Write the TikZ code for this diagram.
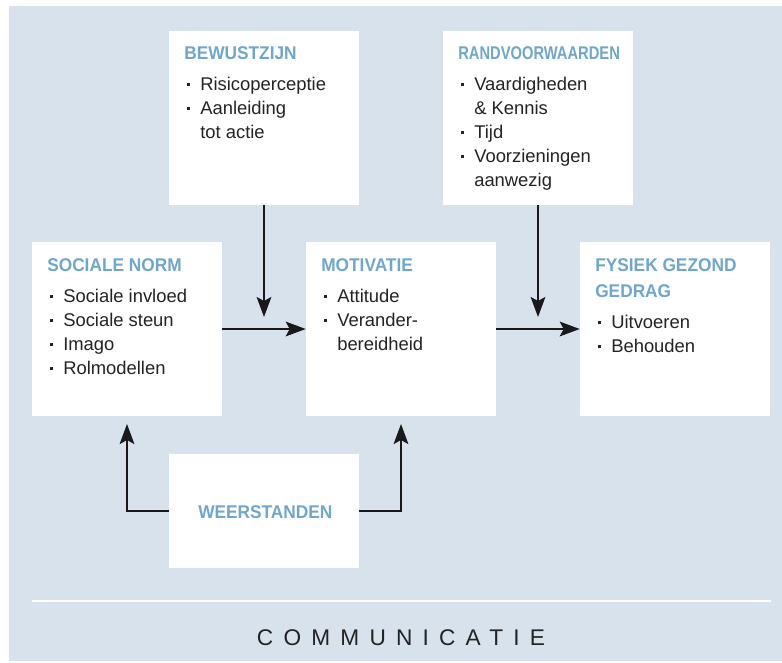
\documentclass[tikz,border=0pt]{standalone}
\usepackage{fontspec}
\setmainfont{Liberation Sans}
\newfontfamily\ttlfont[FakeStretch=0.94]{Liberation Sans}
\newfontfamily\ttlnarrow[FakeStretch=0.80]{Liberation Sans}
\newfontfamily\commfont[LetterSpace=45]{Liberation Sans}
\usetikzlibrary{arrows.meta}
\definecolor{bgblue}{RGB}{216,226,237}
\definecolor{ttlblue}{RGB}{111,166,201}
\definecolor{txtgray}{RGB}{35,35,38}
\newcommand{\ttl}[1]{{\color{ttlblue}\ttlfont\bfseries #1}}
\newcommand{\ttln}[1]{{\color{ttlblue}\ttlnarrow\bfseries #1}}
\newcommand{\itm}{\makebox[12pt][l]{\hspace{2pt}\rule[3pt]{2.3pt}{2.3pt}}}
\newcommand{\cnt}{\hspace*{12pt}}

\begin{document}
\begin{tikzpicture}[x=0.75pt, y=-0.75pt,
  box/.style={fill=white, draw=none, minimum width=142.5pt, minimum height=130.5pt, inner sep=0pt},
  lowbox/.style={box, minimum height=85.5pt},
  boxtext/.style={anchor=north west, align=left, inner sep=0pt, text=txtgray, font=\fontsize{13.8}{18}\selectfont},
  edge/.style={line width=1.6pt, draw=black!90, arrows={-Stealth[length=15pt, width=11pt, inset=3pt]}}
]
\useasboundingbox (0,0) rectangle (782,662);
\fill[bgblue] (9,6) rectangle (782,661);

\node[box] (bew) at (264,118) {};
\node[box] (rand) at (538,118) {};
\node[box] (soc) at (127,329) {};
\node[box] (mot) at (401,329) {};
\node[box] (fys) at (675,329) {};
\node[lowbox] (weer) at (264,511) {};

\node[boxtext] (bewtxt) at (184,46) {\ttl{BEWUSTZIJN}\\[5.25pt]
  \itm Risicoperceptie\\ \itm Aanleiding\\ \cnt tot actie};
\node[boxtext] (randtxt) at (458,46) {\ttln{RANDVOORWAARDEN}\\[5.25pt]
  \itm Vaardigheden\\ \cnt\& Kennis\\ \itm Tijd\\ \itm Voorzieningen\\ \cnt aanwezig};
\node[boxtext] (soctxt) at (47,258) {\ttl{SOCIALE NORM}\\[5.25pt]
  \itm Sociale invloed\\ \itm Sociale steun\\ \itm Imago\\ \itm Rolmodellen};
\node[boxtext] (mottxt) at (321,258) {\ttl{MOTIVATIE}\\[5.25pt]
  \itm Attitude\\ \itm Verander-\\ \cnt bereidheid};
\node[boxtext] (fystxt) at (595,258) {\ttl{FYSIEK GEZOND}\\[1.5pt] \ttl{GEDRAG}\\[5.25pt]
  \itm Uitvoeren\\ \itm Behouden};
\node[boxtext, anchor=base west] (weertxt) at (198,518) {\ttl{WEERSTANDEN}};

\coordinate (bewend) at (264,317);
\coordinate (randend) at (538,317);
\coordinate (socin) at (127,424);
\coordinate (motin) at (401,424);

\draw[edge] (bew) -- (bewend);
\draw[edge] (rand) -- (randend);
\draw[edge] (soc) -- (mot);
\draw[edge] (mot) -- (fys);
\draw[edge] (weer.west) -| (socin);
\draw[edge] (weer.east) -| (motin);

\draw[white, line width=1.5pt] (32,601) -- (771,601);
\node[font=\commfont\fontsize{17}{20}\selectfont, text=txtgray, anchor=base] (comm) at (401,645) {COMMUNICATIE};
\end{tikzpicture}
\end{document}
